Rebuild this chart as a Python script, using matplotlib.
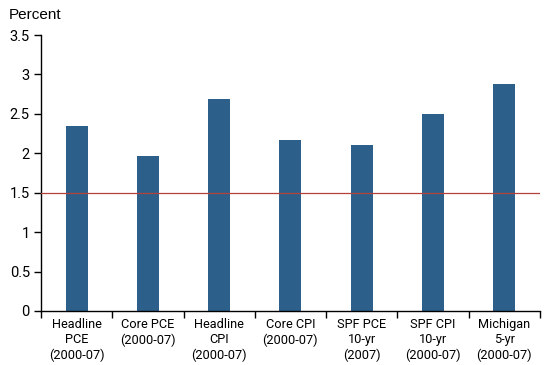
import matplotlib
matplotlib.use("Agg")
import matplotlib.pyplot as plt
import numpy as np

plt.rcParams['font.family'] = ['Roboto', 'DejaVu Sans']

categories = [
    "Headline\nPCE\n(2000-07)",
    "Core PCE\n(2000-07)",
    "Headline\nCPI\n(2000-07)",
    "Core CPI\n(2000-07)",
    "SPF PCE\n10-yr\n(2007)",
    "SPF CPI\n10-yr\n(2000-07)",
    "Michigan\n5-yr\n(2000-07)",
]
values = [2.34, 1.97, 2.69, 2.17, 2.10, 2.50, 2.88]
ref_level = 1.5
yticks = [0, 0.5, 1, 1.5, 2, 2.5, 3, 3.5]
ytick_labels = ["0", "0.5", "1", "1.5", "2", "2.5", "3", "3.5"]

fig = plt.figure(figsize=(5.5, 3.65), dpi=100)
ax = fig.add_axes([0.0745, 0.148, 0.907, 0.756])

x = np.arange(len(categories))
ax.bar(x, values, width=0.31, color="#2d5f8b", zorder=2)
ax.axhline(ref_level, color="#b5403a", linewidth=0.9, zorder=3)

ax.set_xlim(-0.5, len(categories) - 0.5)
ax.set_ylim(0, 3.5)
ax.set_yticks(yticks)
ax.set_yticklabels(ytick_labels, fontsize=10.5)

# category labels centred, ticks on the boundaries
ax.set_xticks(x)
ax.set_xticklabels(categories, fontsize=9.2, linespacing=1.25)
ax.tick_params(axis="x", length=0, pad=5)
ax.set_xticks(np.arange(-0.5, len(categories)), minor=True)
ax.tick_params(axis="x", which="minor", length=5, width=1, direction="out")
ax.tick_params(axis="y", length=5, width=1, direction="out", pad=3)

for side in ["top", "right"]:
    ax.spines[side].set_visible(False)
for side in ["left", "bottom"]:
    ax.spines[side].set_linewidth(1)
    ax.spines[side].set_color("black")

fig.text(0.015, 0.96, "Percent", fontsize=11, va="center", ha="left",
         family=["Liberation Sans", "DejaVu Sans"])

fig.savefig("out.png", dpi=100)
